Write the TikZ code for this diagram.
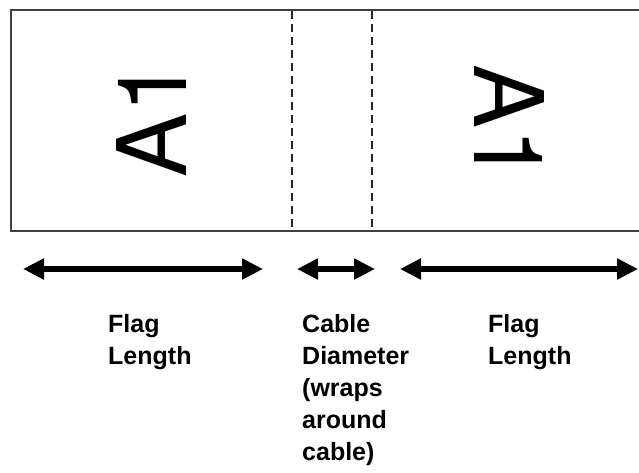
\documentclass[tikz,border=0pt]{standalone}
\usepackage{fontspec}
\setmainfont{Liberation Sans}
\newfontfamily\herosfont{TeX Gyre Heros}
\usetikzlibrary{positioning,calc,arrows.meta}

\tikzset{
  dimarrow/.style={line width=6pt,{Triangle[length=21pt,width=20pt]}-{Triangle[length=21pt,width=20pt]}},
  foldline/.style={line width=1.4pt,dash pattern=on 8pt off 5pt,black!85},
  caption/.style={anchor=base west,inner sep=0pt,align=left,font=\fontsize{25}{32}\selectfont\bfseries},
  flagtext/.style={inner sep=0pt,font=\herosfont\fontsize{96}{96}\selectfont}
}

\begin{document}
\begin{tikzpicture}[x=1pt,y=-1pt]
		\useasboundingbox (0,0) rectangle (639,472);
		\draw [line width=2pt,black!75] (640,10) -- (11,10) -- (11,231) -- (640,231);
		
		\draw [foldline] (292,11) -- (292,230);
		\draw [foldline] (372,11) -- (372,230);
		\node[flagtext,rotate=90] (lefttag) at (152,119) {A1};
		\node[flagtext,rotate=-90] (righttag) at (509,123) {A1};
		
		\coordinate (la) at (23,269);
		\coordinate (lb) at (263,269);
		\coordinate (ca) at (297,269);
		\coordinate (cb) at (375,269);
		\coordinate (ra) at (400,269);
		\coordinate (rb) at (638,269);
		\draw [dimarrow] (la) -- (lb);
		\draw [dimarrow] (ca) -- (cb);
		\draw [dimarrow] (ra) -- (rb);
		
		% base west sits on the last line
		\node[caption] (leftlen) at (108,364) {Flag\\Length};
		\node[caption] (cablediam) at (302,460) {Cable\\Diameter\\(wraps\\around\\cable)};
		\node[caption] (rightlen) at (488,364) {Flag\\Length};
		
	\end{tikzpicture}
\end{document}
